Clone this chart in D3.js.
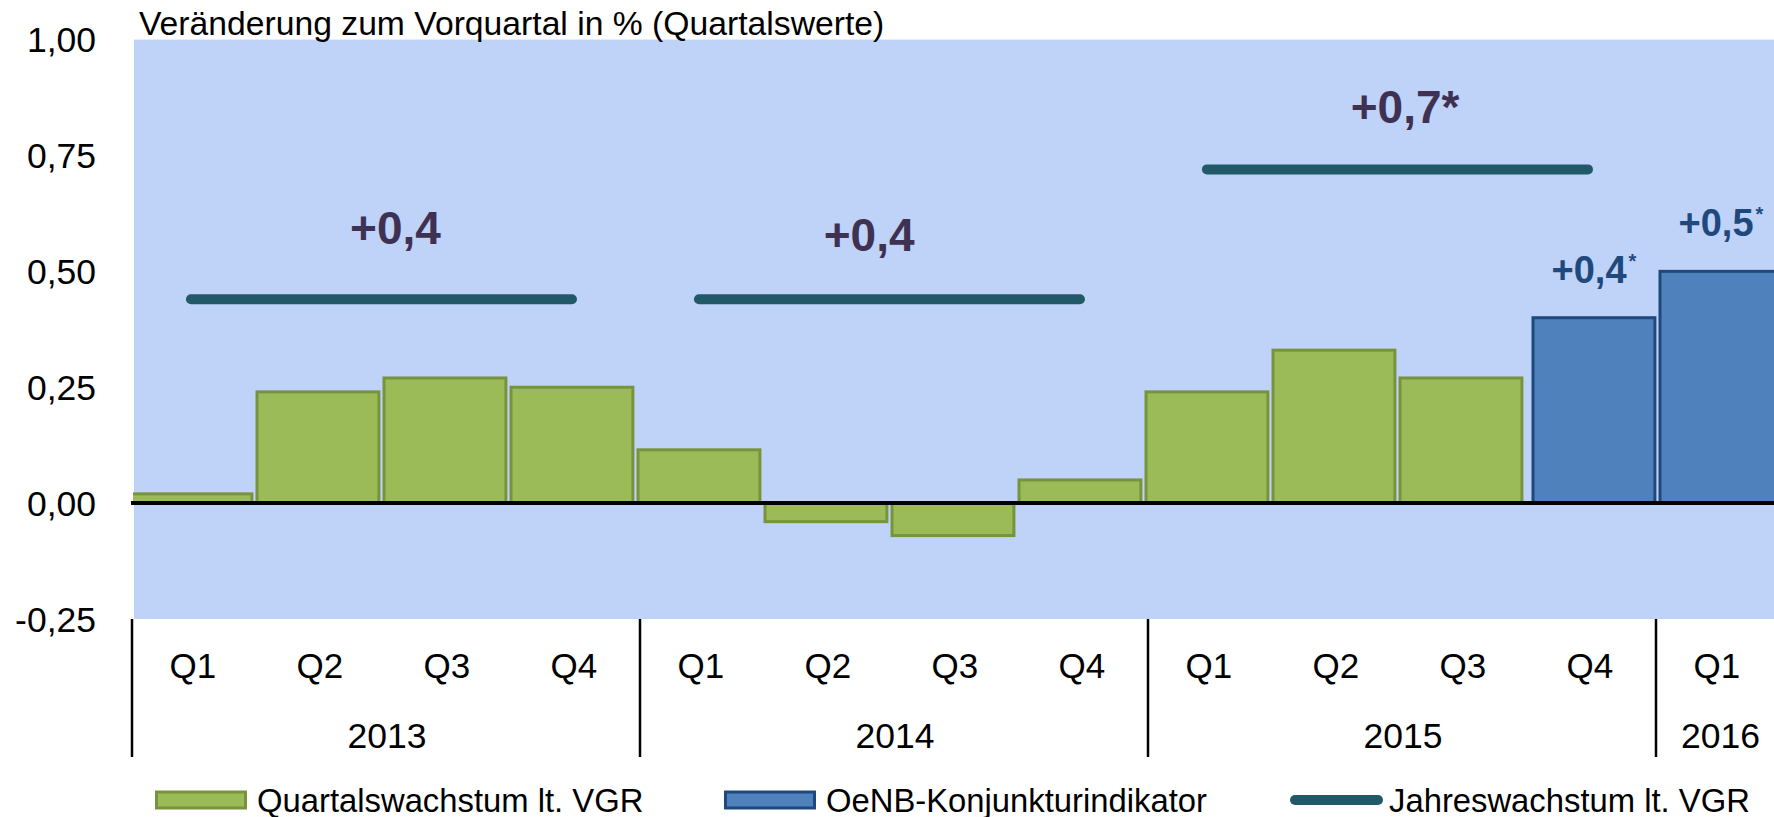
<!DOCTYPE html>
<html>
<head>
<meta charset="utf-8">
<script src="https://cdn.jsdelivr.net/npm/d3@7"></script>
<style>
    body { margin: 0; background: #fff; }
    svg { display: block; font-family: "Liberation Sans", Arial, sans-serif; }
</style>
</head>
<body>
<svg id="chart" width="1774" height="817"></svg>
<script>
// quarters and the year each one belongs to
const quarters = ['Q1', 'Q2', 'Q3', 'Q4', 'Q1', 'Q2', 'Q3', 'Q4', 'Q1', 'Q2', 'Q3', 'Q4', 'Q1'];
const quarterYears = ['2013', '2013', '2013', '2013', '2014', '2014', '2014', '2014',
    '2015', '2015', '2015', '2015', '2016'];
const years = ['2013', '2014', '2015', '2016'];

// Quartalswachstum lt. VGR (green) and OeNB-Konjunkturindikator (blue)
const vgrValues = [0.02, 0.24, 0.27, 0.25, 0.115, -0.04, -0.07, 0.05, 0.24, 0.33, 0.27, null, null];
const oenbValues = [null, null, null, null, null, null, null, null, null, null, null, 0.40, 0.50];
const oenbLabels = ['', '', '', '', '', '', '', '', '', '', '', '+0,4', '+0,5'];

// Jahreswachstum lt. VGR (annual line over the four quarters of a year)
const annualYears = ['2013', '2014', '2015'];
const annualValues = [0.44, 0.44, 0.72];
const annualLabels = ['+0,4', '+0,4', '+0,7*'];
// label anchors: position in quarter steps from the left, and value
const annualLabelPos = [2.09, 5.82, 10.04];
const annualLabelValue = [0.56, 0.545, 0.82];

const yTicks = [-0.25, 0, 0.25, 0.5, 0.75, 1.0];
const title = 'Veränderung zum Vorquartal in % (Quartalswerte)';
const legendNames = ['Quartalswachstum lt. VGR', 'OeNB-Konjunkturindikator', 'Jahreswachstum lt. VGR'];

const colors = {
    plotBg: '#bfd2f8',
    green: '#9bbb59',
    greenStroke: '#77933c',
    blue: '#4f81bd',
    blueStroke: '#1f497d',
    annual: '#215968',
    annualText: '#3f3151',
    blueText: '#1f497d'
};

const W = 1774, H = 817;
const plot = { left: 134, right: 1774, top: 39.6, bottom: 619 };
const blueShift = 6;

const svg = d3.select('#chart');
const de = d3.formatLocale({ decimal: ',', thousands: '.', grouping: [3], currency: ['', '€'], minus: '-' });
const fmt = de.format('.2f');

const ids = quarters.map((q, i) => i);
const x = d3.scaleBand().domain(ids).range([130, 1781])
    .paddingInner(0.04).paddingOuter(0.02).align(0);
const y = d3.scaleLinear().domain([-0.25, 1]).range([plot.bottom, plot.top]);
const step = x.step();
const xAt = (pos) => x.range()[0] + pos * step;

// plot background
svg.append('rect')
    .attr('x', plot.left).attr('y', y(1))
    .attr('width', plot.right - plot.left).attr('height', y(-0.25) - y(1))
    .attr('fill', colors.plotBg);

svg.append('clipPath').attr('id', 'plot-clip')
    .append('rect')
    .attr('x', plot.left - 1).attr('y', 0)
    .attr('width', W).attr('height', H);

const bars = svg.append('g').attr('clip-path', 'url(#plot-clip)');

function drawBars(values, fill, stroke, shift) {
    const data = values.map((v, i) => ({ i, v })).filter((d) => d.v !== null);
    bars.selectAll(null)
        .data(data)
        .enter()
        .append('rect')
        .attr('x', (d) => x(d.i) + shift)
        .attr('y', (d) => y(Math.max(0, d.v)))
        .attr('width', x.bandwidth())
        .attr('height', (d) => Math.abs(y(d.v) - y(0)))
        .attr('fill', fill)
        .attr('stroke', stroke)
        .attr('stroke-width', 3);
}

drawBars(vgrValues, colors.green, colors.greenStroke, 0);
drawBars(oenbValues, colors.blue, colors.blueStroke, blueShift);

// zero line
svg.append('line')
    .attr('x1', plot.left - 3).attr('x2', W)
    .attr('y1', y(0)).attr('y2', y(0))
    .attr('stroke', '#000').attr('stroke-width', 4);

// annual growth lines
const firstIndex = (yr) => quarterYears.indexOf(yr);
svg.append('g').selectAll(null)
    .data(annualYears.map((yr, k) => ({ yr, v: annualValues[k] })))
    .enter()
    .append('line')
    .attr('x1', (d) => x(firstIndex(d.yr)) + x.bandwidth() / 2)
    .attr('x2', (d) => x(firstIndex(d.yr) + 3) + x.bandwidth() / 2)
    .attr('y1', (d) => y(d.v)).attr('y2', (d) => y(d.v))
    .attr('stroke', colors.annual)
    .attr('stroke-width', 10)
    .attr('stroke-linecap', 'round');

// annual labels
svg.append('g').selectAll(null)
    .data(annualLabels.map((t, k) => ({ t, pos: annualLabelPos[k], v: annualLabelValue[k] })))
    .enter()
    .append('text')
    .attr('x', (d) => xAt(d.pos))
    .attr('y', (d) => y(d.v))
    .attr('text-anchor', 'middle')
    .attr('font-weight', 'bold')
    .attr('font-size', 46)
    .attr('fill', colors.annualText)
    .text((d) => d.t);

// OeNB labels with small superscript asterisk
const oenbText = svg.append('g').selectAll(null)
    .data(oenbValues.map((v, i) => ({ v, i, t: oenbLabels[i] })).filter((d) => d.v !== null))
    .enter()
    .append('text')
    .attr('x', (d) => x(d.i) + blueShift + x.bandwidth() / 2)
    .attr('y', (d) => y(d.v) - 35)
    .attr('text-anchor', 'middle')
    .attr('font-weight', 'bold')
    .attr('font-size', 38)
    .attr('fill', colors.blueText);
oenbText.append('tspan').text((d) => d.t);
oenbText.append('tspan').attr('font-size', 20).attr('dx', 2).attr('dy', -15).text('*');

// y tick labels
svg.append('g').selectAll(null)
    .data(yTicks)
    .enter()
    .append('text')
    .attr('x', 96)
    .attr('y', (d) => y(d))
    .attr('dy', '0.36em')
    .attr('text-anchor', 'end')
    .attr('font-size', 35.5)
    .attr('fill', '#000')
    .text((d) => fmt(d));

// title
svg.append('text')
    .attr('x', 139).attr('y', 35)
    .attr('font-size', 33.7)
    .attr('fill', '#000')
    .text(title);

// category axis: quarter labels, year labels and separators
const axis = svg.append('g');
axis.selectAll(null)
    .data(ids)
    .enter()
    .append('text')
    .attr('x', (d) => x(d) + x.bandwidth() / 2 + 2)
    .attr('y', 678)
    .attr('text-anchor', 'middle')
    .attr('font-size', 35)
    .text((d) => quarters[d]);

axis.selectAll(null)
    .data(years)
    .enter()
    .append('text')
    .attr('x', (yr) => {
        const first = firstIndex(yr);
        const last = quarterYears.lastIndexOf(yr);
        return (xAt(first) + xAt(last + 1)) / 2 + 3;
    })
    .attr('y', 748)
    .attr('text-anchor', 'middle')
    .attr('font-size', 35.5)
    .text((yr) => yr);

axis.selectAll(null)
    .data(years)
    .enter()
    .append('line')
    .attr('x1', (yr) => xAt(firstIndex(yr)) + 2)
    .attr('x2', (yr) => xAt(firstIndex(yr)) + 2)
    .attr('y1', plot.bottom).attr('y2', 757)
    .attr('stroke', '#000').attr('stroke-width', 2.5);

// legend
const legendX = [155, 724, 1290];
const legend = svg.append('g');
legendNames.forEach((name, k) => {
    const g = legend.append('g').attr('transform', `translate(${legendX[k]}, 800)`);
    if (k < 2) {
        g.append('rect')
            .attr('x', 1.5).attr('y', -8)
            .attr('width', 89).attr('height', 16)
            .attr('fill', k === 0 ? colors.green : colors.blue)
            .attr('stroke', k === 0 ? colors.greenStroke : colors.blueStroke)
            .attr('stroke-width', 3);
    } else {
        g.append('line')
            .attr('x1', 5).attr('x2', 88)
            .attr('y1', 0).attr('y2', 0)
            .attr('stroke', colors.annual)
            .attr('stroke-width', 10)
            .attr('stroke-linecap', 'round');
    }
    g.append('text')
        .attr('x', k === 2 ? 99 : 102)
        .attr('y', 11.5)
        .attr('font-size', 32.8)
        .text(name);
});
</script>
</body>
</html>
